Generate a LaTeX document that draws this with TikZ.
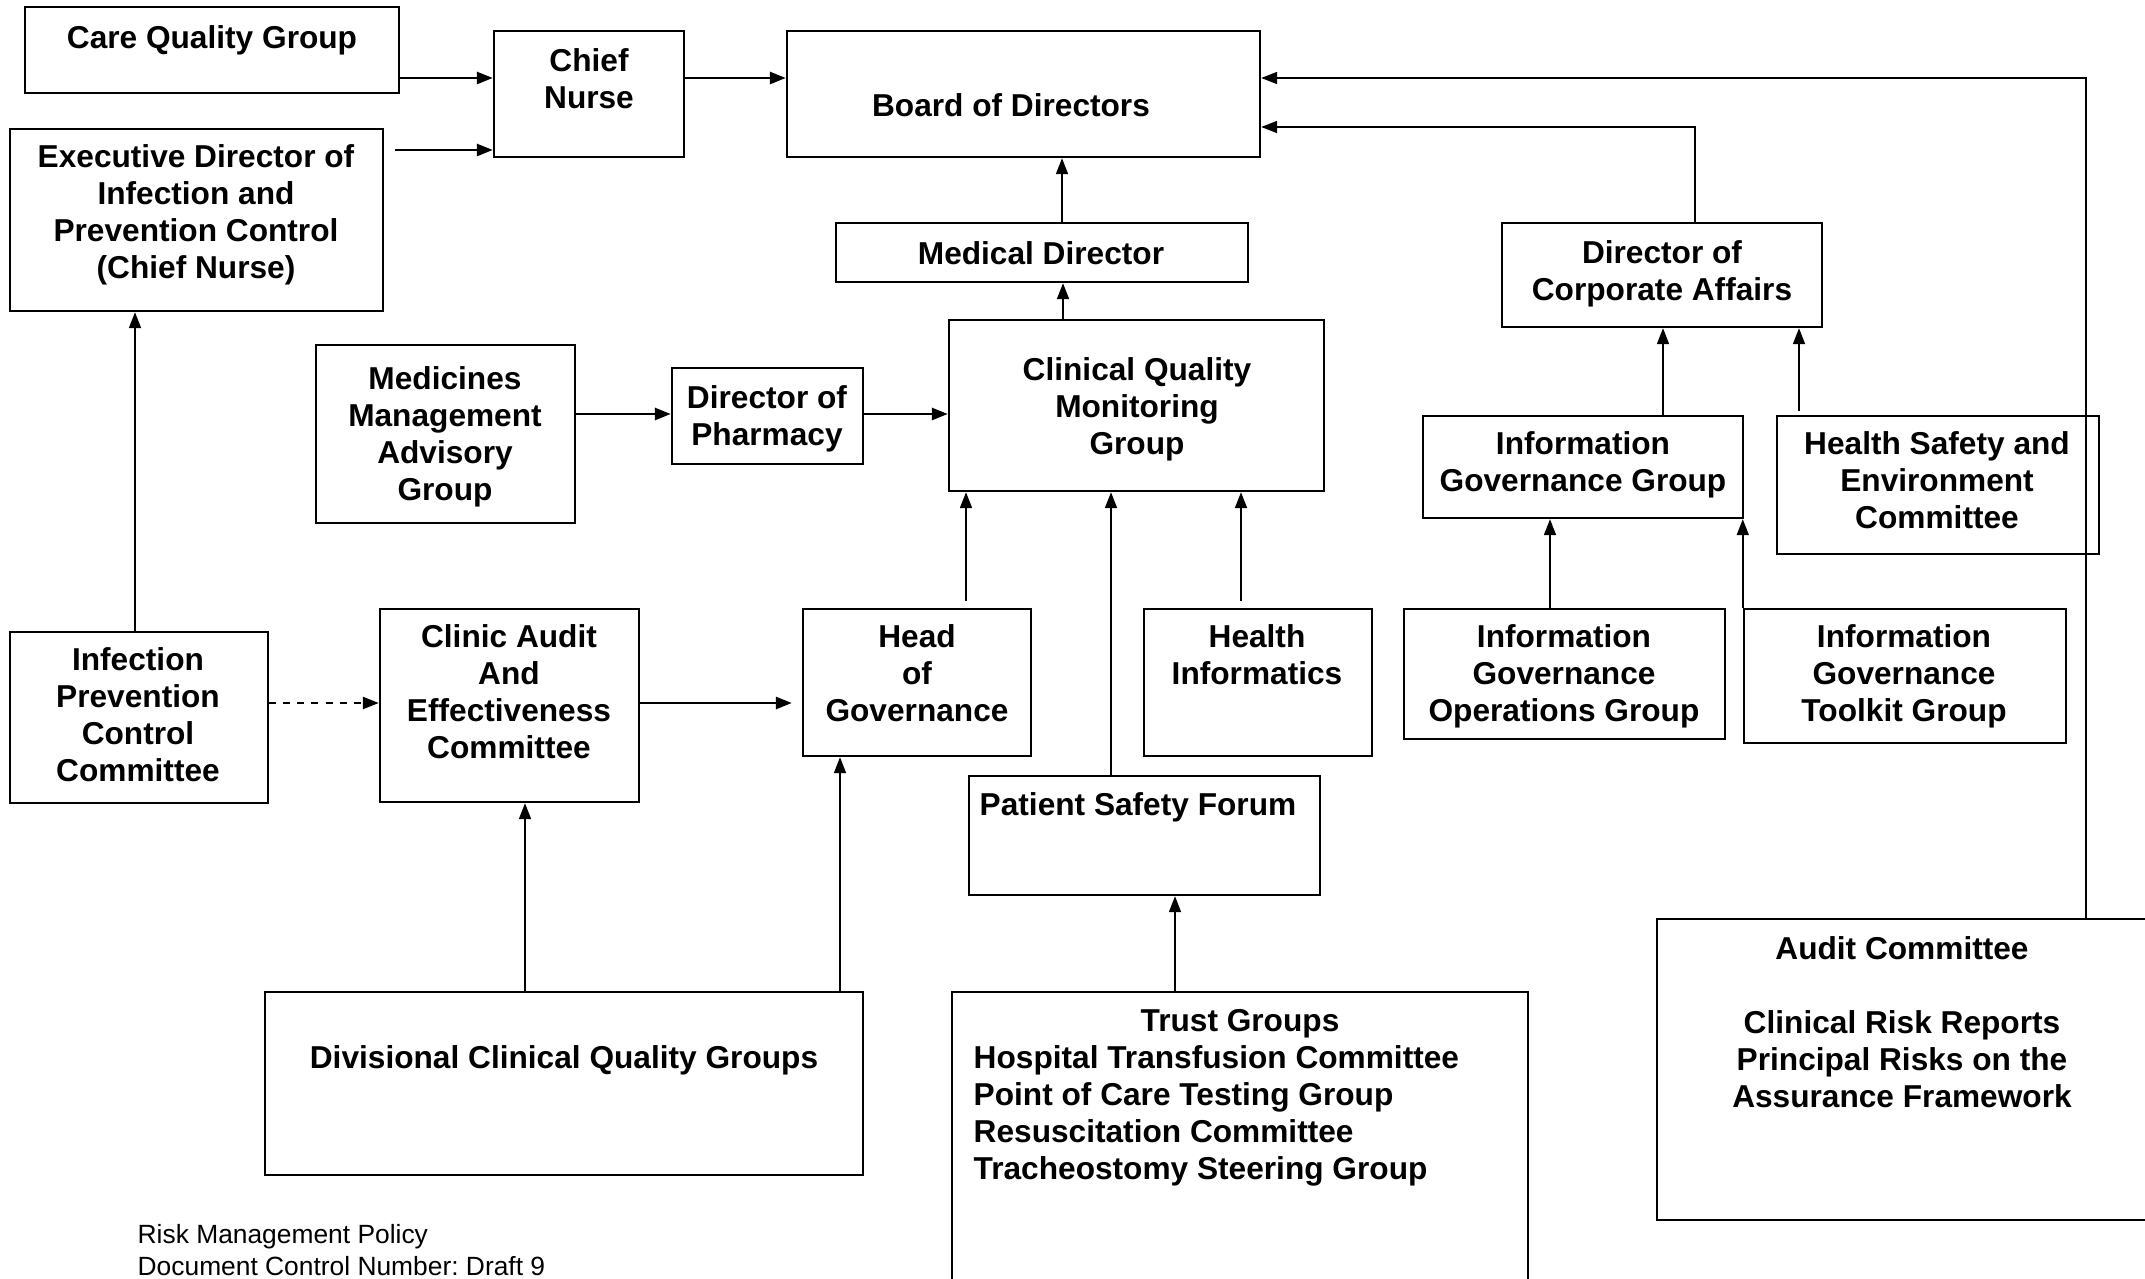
\documentclass[tikz,border=0pt]{standalone}
\usepackage{fontspec}
\setmainfont{Liberation Sans}
\usetikzlibrary{arrows.meta,fit,calc}
\begin{document}
\begin{tikzpicture}[x=0.01cm,y=-0.01cm,
  box/.style={draw,line width=0.7pt,inner sep=0pt},
  lbl/.style={font=\fontsize{9}{10.5}\selectfont\bfseries,align=center,inner sep=0pt},
  foot/.style={font=\fontsize{7.5}{9}\selectfont\frenchspacing,align=left,inner sep=0pt,anchor=west},
  tip/.style={-{Triangle[length=4.5pt,width=3.4pt]}},
  harr/.style={tip,line width=0.75pt},
  varr/.style={tip,line width=0.45pt},
  darr/.style={tip,line width=0.6pt,dash pattern=on 2pt off 2pt}]
\useasboundingbox (0,0) rectangle (2145,1279);
% boxes
\node[box,fit={(25,7) (399,93)}] (cq) {};
\node[box,fit={(494,31) (684,157)}] (chief) {};
\node[box,fit={(787,31) (1260,157)}] (board) {};
\node[box,fit={(10,129) (383,311)}] (exec) {};
\node[box,fit={(836,223) (1248,282)}] (med) {};
\node[box,fit={(1502,223) (1822,327)}] (dca) {};
\node[box,fit={(316,345) (575,523)}] (mmag) {};
\node[box,fit={(672,368) (863,464)}] (pharm) {};
\node[box,fit={(949,320) (1324,491)}] (cqmg) {};
\node[box,fit={(1423,416) (1743,518)}] (igg) {};
\node[box,fit={(1777,416) (2099,554)}] (hse) {};
\node[box,fit={(10,632) (268,803)}] (ipcc) {};
\node[box,fit={(380,609) (639,802)}] (clinic) {};
\node[box,fit={(803,609) (1031,756)}] (hog) {};
\node[box,fit={(1144,609) (1372,756)}] (hi) {};
\node[box,fit={(1404,609) (1725,739)}] (igops) {};
\node[box,fit={(1744,609) (2066,743)}] (igtk) {};
\node[box,fit={(969,776) (1320,895)}] (psf) {};
\node[box,fit={(265,992) (863,1175)}] (div) {};
\node[box,fit={(952,992) (1528,1290)}] (trust) {};
\node[box,fit={(1657,919) (2150,1220)}] (audit) {};
% labels
\node[lbl] (cq-t) at (212,40) {Care Quality Group};
\node[lbl] (chief-t) at (589,79) {Chief\\Nurse};
\node[lbl] (board-t) at (1011,105) {Board of Directors};
\node[lbl] (exec-t) at (196,215) {Executive Director of\\Infection and\\Prevention Control\\(Chief Nurse)};
\node[lbl] (med-t) at (1041,253) {Medical Director};
\node[lbl] (dca-t) at (1662,274) {Director of\\Corporate Affairs};
\node[lbl] (mmag-t) at (445,437) {Medicines\\Management\\Advisory\\Group};
\node[lbl] (pharm-t) at (767,419) {Director of\\Pharmacy};
\node[lbl] (cqmg-t) at (1137,409) {Clinical Quality\\Monitoring\\Group};
\node[lbl] (igg-t) at (1583,465) {Information\\Governance Group};
\node[lbl] (hse-t) at (1937,480) {Health Safety and\\Environment\\Committee};
\node[lbl] (ipcc-t) at (138,715) {Infection\\Prevention\\Control\\Committee};
\node[lbl] (clinic-t) at (509,692) {Clinic Audit\\And\\Effectiveness\\Committee};
\node[lbl] (hog-t) at (917,673) {Head\\of\\Governance};
\node[lbl] (hi-t) at (1257,655) {Health\\Informatics};
\node[lbl] (igops-t) at (1564,676) {Information\\Governance\\Operations Group};
\node[lbl] (igtk-t) at (1904,676) {Information\\Governance\\Toolkit Group};
\node[lbl,anchor=west] (psf-t) at (979,807) {Patient Safety Forum};
\node[lbl] (div-t) at (564,1060) {Divisional Clinical Quality Groups};
\node[lbl] (trust-t) at (1240,1024) {Trust Groups};
\node[lbl,align=left,anchor=west] (trust-l) at (973,1116) {Hospital Transfusion Committee\\Point of Care Testing Group\\Resuscitation Committee\\Tracheostomy Steering Group};
\node[lbl] (audit-t) at (1902,1022) {Audit Committee\\[10.5pt]Clinical Risk Reports\\Principal Risks on the\\Assurance Framework};
\node[foot] (foot-t) at (137,1250) {Risk Management Policy\\Document Control Number: Draft 9};
% connectors
\draw[harr] (cq.east |- 0,78) -- (chief.west |- 0,78);
\draw[harr] ($(exec.east |- 0,150)+(11,0)$) -- (chief.west |- 0,150);
\draw[harr] (chief.east |- 0,78) -- (board.west |- 0,78);
\draw[varr] (med.north -| 1062,0) -- (board.south -| 1062,0);
\draw[varr] (cqmg.north -| 1063,0) -- (med.south -| 1063,0);
\draw[varr] (dca.north -| 1695,0) |- (board.east |- 0,127);
\draw[varr] (audit.north -| 2086,0) |- (board.east |- 0,78);
\draw[varr] (igg.north -| 1663,0) -- (dca.south -| 1663,0);
\draw[varr] ($(hse.north -| 1799,0)+(0,-4)$) -- (dca.south -| 1799,0);
\draw[varr] (igops.north -| 1550,0) -- (igg.south -| 1550,0);
\draw[varr] (igtk.north west) -- (igtk.north west |- igg.south);
\draw[harr] (mmag.east |- 0,414) -- (pharm.west |- 0,414);
\draw[harr] (pharm.east |- 0,414) -- (cqmg.west |- 0,414);
\draw[varr] ($(hog.north -| 966,0)+(0,-7)$) -- (cqmg.south -| 966,0);
\draw[varr] (psf.north -| 1111,0) -- (cqmg.south -| 1111,0);
\draw[varr] ($(hi.north -| 1241,0)+(0,-7)$) -- (cqmg.south -| 1241,0);
\draw[varr] (ipcc.north -| 135,0) -- (exec.south -| 135,0);
\draw[darr] (ipcc.east |- 0,703) -- (clinic.west |- 0,703);
\draw[harr,shorten >=0.1cm] (clinic.east |- 0,703) -- (hog.west |- 0,703);
\draw[varr] (div.north -| 525,0) -- (clinic.south -| 525,0);
\draw[varr] (div.north -| 840,0) -- (hog.south -| 840,0);
\draw[varr] (trust.north -| 1175,0) -- (psf.south -| 1175,0);
\end{tikzpicture}
\end{document}
